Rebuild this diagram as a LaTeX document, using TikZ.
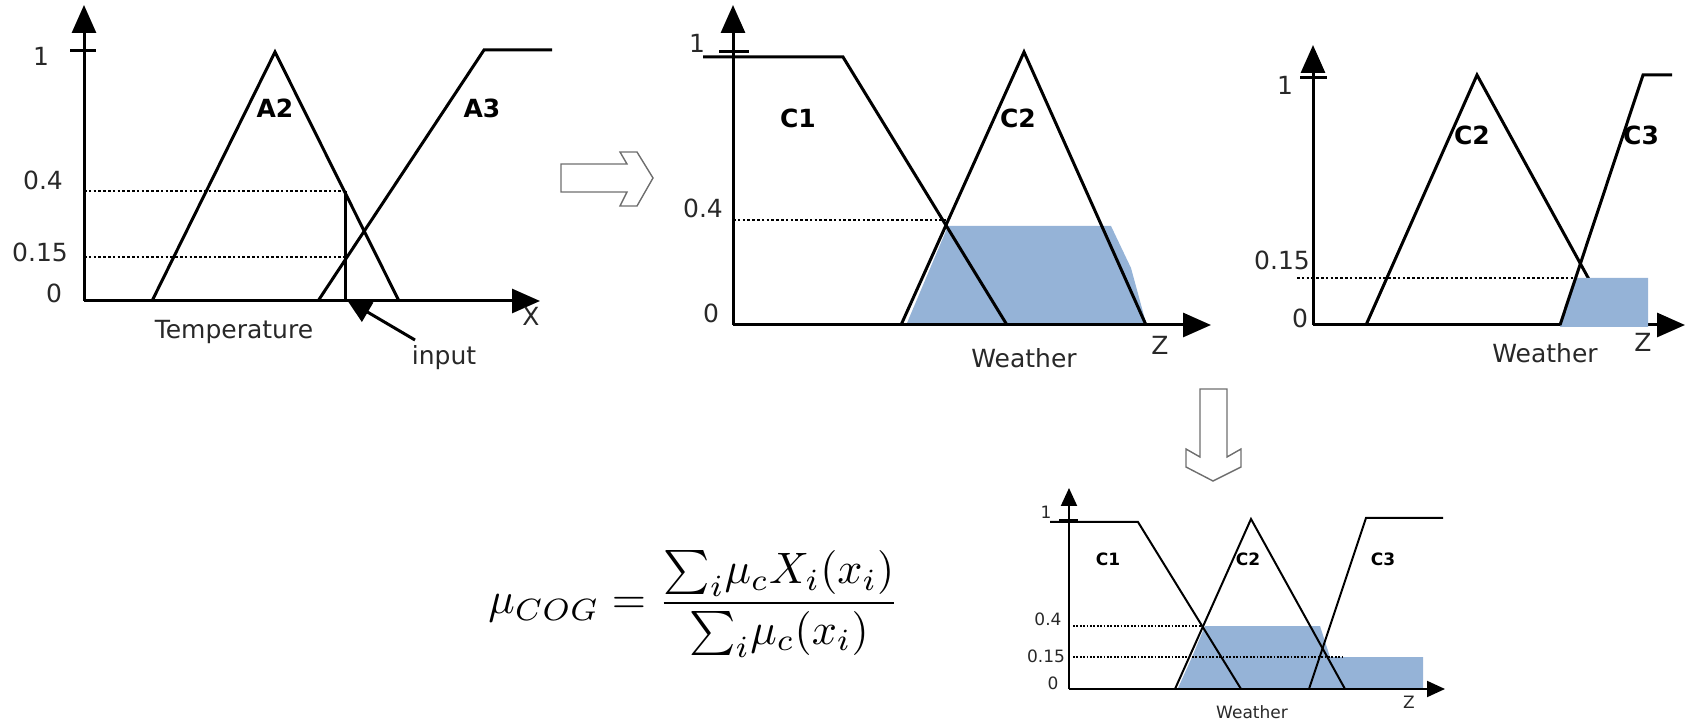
\documentclass[tikz,border=0pt]{standalone}
\usepackage{fontspec}
\setmainfont{DejaVu Sans}
\usetikzlibrary{arrows.meta}
\definecolor{fillblue}{RGB}{149,179,215}
\definecolor{txt}{RGB}{40,40,40}
\definecolor{arrowgray}{RGB}{110,110,110}
\begin{document}
\begin{tikzpicture}[x=0.5pt,y=-0.5pt,
  axisA/.style={line width=1.5pt,-{Triangle[length=14pt,width=12pt]}},
  axisB/.style={line width=1pt,-{Triangle[length=9pt,width=8pt]}},
  fn/.style={line width=1.5pt,line join=miter},
  fnB/.style={line width=1pt,line join=miter},
  dots/.style={line width=1.3pt,dash pattern=on 1.3pt off 1.1pt},
  dotsB/.style={line width=0.9pt,dash pattern=on 0.9pt off 0.8pt},
  lbl/.style={font=\fontsize{12.5}{14}\selectfont,text=txt,inner sep=0pt},
  lblS/.style={font=\fontsize{8.5}{10}\selectfont,text=txt,inner sep=0pt},
  setname/.style={font=\fontsize{12.5}{14}\selectfont\bfseries,inner sep=0pt},
  setnameS/.style={font=\fontsize{8.5}{10}\selectfont\bfseries,inner sep=0pt},
  blockarrow/.style={draw=arrowgray,line width=0.7pt,line join=miter}
]
\useasboundingbox (0,0) rectangle (1686,726);

% ---------------- Panel 1 : Temperature ----------------
\draw[axisA] (84,301) -- (84,5);
\draw[axisA] (84,301) -- (540,301);
\draw[fn] (70,51) -- (96,51);
\draw[fn] (152,301) -- (275,52) -- (399,301);
\draw[fn] (318,301) -- (484,50) -- (552,50);
\draw[dots] (84,191) -- (345,191);
\draw[dots] (84,257) -- (345,257);
\draw[fn] (345,191) -- (345,301);
\coordinate (inTail) at (415,340);
\coordinate (inTip) at (347,300);
\draw[line width=1.5pt,-{Triangle[length=12pt,width=11pt]}] (inTail) -- (inTip);
\node[lbl] (p1one) at (41,56) {1};
\node[lbl] (p1four) at (43,180) {0.4};
\node[lbl] (p1fifteen) at (40,252) {0.15};
\node[lbl] (p1zero) at (54,293) {0};
\node[setname] (A2) at (275,108) {A2};
\node[setname] (A3) at (482,108) {A3};
\node[lbl] (p1X) at (531,316) {X};
\node[lbl] (temp) at (234,332) {Temperature};
\node[lbl] (inp) at (444,358) {input};

% right block arrow
\draw[blockarrow] (561,164) -- (627,164) -- (620,152) -- (637,152) -- (653,178)
  -- (637,206) -- (620,206) -- (627,192) -- (561,192) -- cycle;

% ---------------- Panel 2 : C1, C2 ----------------
\fill[fillblue] (907,323) -- (948,226) -- (1111,226) -- (1131,268) -- (1146,323) -- cycle;
\draw[axisA] (733,325) -- (733,5);
\draw[axisA] (733,325) -- (1211,325);
\draw[fn] (719,52) -- (749,52);
\draw[fn] (703,57) -- (843,57) -- (1007,325);
\draw[fn] (901,325) -- (1024,52) -- (1146,325);
\draw[dots] (733,220) -- (946,220);
\node[lbl] (p2one) at (697,43) {1};
\node[lbl] (p2four) at (703,208) {0.4};
\node[lbl] (p2zero) at (711,313) {0};
\node[setname] (p2C1) at (798,118) {C1};
\node[setname] (p2C2) at (1018,118) {C2};
\node[lbl] (p2Z) at (1160,345) {Z};
\node[lbl] (p2W) at (1024,358) {Weather};

% ---------------- Panel 3 : C2, C3 ----------------
\draw[axisA] (1313,325) -- (1313,45);
\draw[axisA] (1313,325) -- (1685,325);
\draw[fn] (1300,78) -- (1327,78);
\draw[fn] (1366,325) -- (1477,75) -- (1614,325);
\draw[dots] (1297,278) -- (1573,278);
\fill[fillblue] (1560,327) -- (1575,278) -- (1648,278) -- (1648,327) -- cycle;
\draw[fn] (1560,325) -- (1643,75) -- (1672,75);
\node[lbl] (p3one) at (1285,85) {1};
\node[lbl] (p3fifteen) at (1282,260) {0.15};
\node[lbl] (p3zero) at (1300,318) {0};
\node[setname] (p3C2) at (1472,135) {C2};
\node[setname] (p3C3) at (1641,135) {C3};
\node[lbl] (p3W) at (1545,353) {Weather};
\node[lbl] (p3Z) at (1643,342) {Z};

% down block arrow
\draw[blockarrow] (1200,389) -- (1227,389) -- (1227,457) -- (1241,449) -- (1241,467)
  -- (1213,481) -- (1186,467) -- (1186,449) -- (1200,457) -- cycle;

% ---------------- Panel 4 : aggregated ----------------
\fill[fillblue] (1178,688) -- (1192,657) -- (1205,626) -- (1320,626) -- (1330,657)
  -- (1423,657) -- (1423,688) -- cycle;
\draw[axisB] (1069,689) -- (1069,488);
\draw[axisB] (1069,689) -- (1445,689);
\draw[fnB] (1059,520) -- (1078,520);
\draw[fnB] (1050,522) -- (1138,522) -- (1241,689);
\draw[fnB] (1175,689) -- (1251,519) -- (1345,689);
\draw[fnB] (1309,689) -- (1366,518) -- (1443,518);
\draw[dotsB] (1073,626) -- (1203,626);
\draw[dotsB] (1073,657) -- (1343,657);
\node[lblS] (p4one) at (1046,512) {1};
\node[lblS] (p4four) at (1048,619) {0.4};
\node[lblS] (p4fifteen) at (1046,656) {0.15};
\node[lblS] (p4zero) at (1053,683) {0};
\node[setnameS] (p4C1) at (1108,559) {C1};
\node[setnameS] (p4C2) at (1248,559) {C2};
\node[setnameS] (p4C3) at (1383,559) {C3};
\node[lblS] (p4W) at (1252,712) {Weather};
\node[lblS] (p4Z) at (1409,702) {Z};

% ---------------- formula ----------------
\node[scale=2.2,inner sep=0pt] (cog) at (694,604)
  {$\displaystyle \mu_{COG}=\frac{{\sum}_i\mu_c X_i(x_i)}{{\sum}_i\mu_c(x_i)}$};
\end{tikzpicture}
\end{document}
